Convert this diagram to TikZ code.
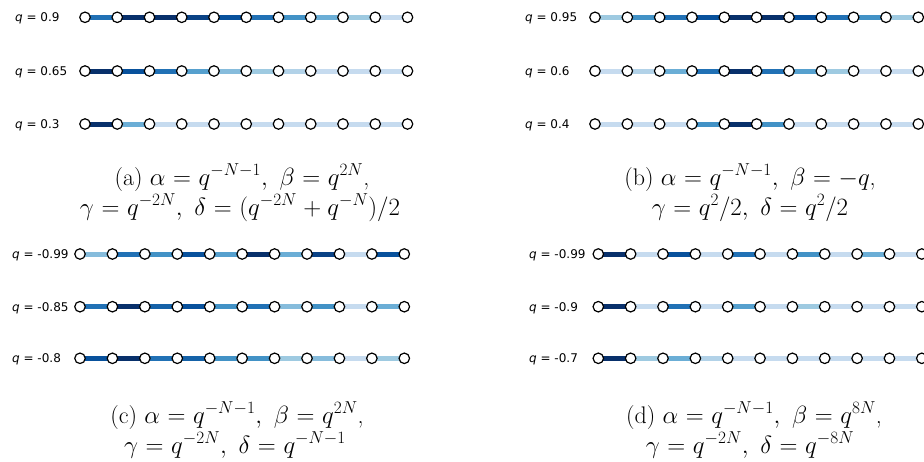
\documentclass[tikz,border=0pt]{standalone}
\usepackage{fontspec}
\newfontfamily\djv{DejaVu Sans}
\usetikzlibrary{backgrounds}
\definecolor{B1}{HTML}{C6DBEF}
\definecolor{B15}{HTML}{B2D2E8}
\definecolor{B2}{HTML}{9ECAE1}
\definecolor{B25}{HTML}{86BCDC}
\definecolor{B3}{HTML}{6BAED6}
\definecolor{B35}{HTML}{56A0CE}
\definecolor{B4}{HTML}{4292C6}
\definecolor{B5}{HTML}{2171B5}
\definecolor{B55}{HTML}{1562A8}
\definecolor{B6}{HTML}{08519C}
\definecolor{B65}{HTML}{0A4285}
\definecolor{B7}{HTML}{08306B}
\newcommand{\capfont}{\fontsize{24}{28}\selectfont\thickmuskip=5.5mu plus 2mu\medmuskip=4.5mu plus 2mu}
\tikzset{
  dot/.style={circle,draw=black,line width=1.2pt,fill=white,minimum size=10.5pt,inner sep=0pt},
  seg/.style={line width=5pt},
  qlabel/.style={anchor=base west,inner sep=0pt,font=\djv\fontsize{12}{14}\selectfont},
  capline/.style={anchor=base,inner sep=0pt,font=\capfont}
}
% #1 name, #2 x0, #3 y, #4 dx, #5 label x, #6 label value, #7 colours
\newcommand{\chainrow}[7]{%
  \node[qlabel] (#1-lab) at (#5,#3+4.4) {{\itshape q} = #6};
  \foreach \i in {0,...,10} {\node[dot] (#1-\i) at ({#2+\i*#4},#3) {};}
  \begin{pgfonlayer}{background}
  \foreach \c [count=\k from 0] in {#7} {%
    \pgfmathtruncatemacro\kk{\k+1}%
    \draw[seg,draw=\c] (#1-\k.center) -- (#1-\kk.center);}
  \end{pgfonlayer}
}
\begin{document}
\begin{tikzpicture}[x=1pt,y=-1pt]
\useasboundingbox (0,0) rectangle (924,461);
% (a)
\chainrow{a1}{85}{17.3}{32.25}{15}{0.9}{B5,B7,B7,B65,B6,B5,B4,B3,B2,B1}
\chainrow{a2}{85}{71}{32.25}{15}{0.65}{B7,B6,B5,B35,B25,B2,B15,B1,B1,B1}
\chainrow{a3}{85}{124}{32.25}{15}{0.3}{B7,B3,B1,B1,B1,B1,B1,B1,B1,B1}
\node[capline] (capa1) at (242,185) {(a) $\alpha=q^{-N-1},\;\beta=q^{2N}$,};
\node[capline] (capa2) at (240,215) {$\gamma=q^{-2N},\;\delta=(q^{-2N}+q^{-N})/2$};
% (b)
\chainrow{b1}{595}{17.3}{32.33}{525}{0.95}{B2,B4,B5,B6,B7,B7,B6,B5,B4,B2}
\chainrow{b2}{595}{71}{32.33}{525}{0.6}{B1,B15,B3,B5,B7,B5,B35,B2,B1,B1}
\chainrow{b3}{595}{124}{32.33}{525}{0.4}{B1,B1,B1,B4,B7,B4,B1,B1,B1,B1}
\node[capline] (capb1) at (750,185) {(b) $\alpha=q^{-N-1},\;\beta=-q$,};
\node[capline] (capb2) at (750,215) {$\gamma=q^{2}/2,\;\delta=q^{2}/2$};
% (c)
\chainrow{c1}{80}{254}{32.43}{12}{-0.99}{B25,B5,B4,B6,B35,B7,B3,B65,B1,B6}
\chainrow{c2}{80}{306.7}{32.43}{12}{-0.85}{B5,B7,B55,B6,B4,B5,B25,B4,B1,B3}
\chainrow{c3}{80}{358.3}{32.43}{12}{-0.8}{B6,B7,B5,B55,B4,B4,B2,B25,B1,B2}
\node[capline] (capc1) at (237,423) {(c) $\alpha=q^{-N-1},\;\beta=q^{2N}$,};
\node[capline] (capc2) at (235,453) {$\gamma=q^{-2N},\;\delta=q^{-N-1}$};
% (d)
\chainrow{d1}{598.3}{254}{32.35}{529}{-0.99}{B7,B1,B6,B1,B5,B1,B4,B1,B3,B1}
\chainrow{d2}{598.3}{306.7}{32.35}{529}{-0.9}{B7,B1,B5,B1,B35,B1,B2,B1,B1,B1}
\chainrow{d3}{598.3}{358.3}{32.35}{529}{-0.7}{B7,B2,B3,B15,B1,B1,B1,B1,B1,B1}
\node[capline] (capd1) at (754,423) {(d) $\alpha=q^{-N-1},\;\beta=q^{8N}$,};
\node[capline] (capd2) at (750,453) {$\gamma=q^{-2N},\;\delta=q^{-8N}$};
\end{tikzpicture}
\end{document}
